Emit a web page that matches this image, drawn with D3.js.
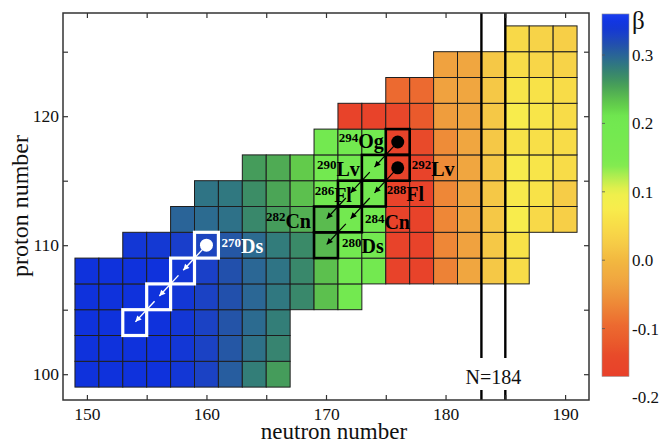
<!DOCTYPE html>
<html><head><meta charset="utf-8">
<script src="https://cdn.jsdelivr.net/npm/d3@7"></script>
<style>body{margin:0;background:#fff}svg{display:block}</style>
</head><body><svg id="c" width="662" height="443"></svg>
<script>
// ---------------- data ----------------
const rowZ      = [100, 102, 104, 106, 108, 110, 112, 114, 116, 118, 120, 122, 124, 126];
const rowStartN = [150, 150, 150, 150, 150, 154, 158, 160, 164, 170, 172, 176, 180, 186];
const betaZ100 = [0.345,0.345,0.345,0.345,0.34,0.328,0.305,0.28,0.258];
const betaZ102 = [0.345,0.345,0.345,0.345,0.34,0.328,0.31,0.29,0.275];
const betaZ104 = [0.345,0.345,0.345,0.345,0.34,0.328,0.312,0.295,0.28];
const betaZ106 = [0.345,0.345,0.345,0.345,0.34,0.328,0.315,0.298,0.285,0.272,0.235,0.19];
const betaZ108 = [0.345,0.345,0.345,0.345,0.34,0.33,0.315,0.298,0.288,0.272,0.235,0.19,0.19,-0.16,-0.16,-0.07,-0.03,0.02,0.05];
const betaZ110 = [0.34,0.338,0.332,0.325,0.31,0.295,0.282,0.27,0.24,0.19,0.19,-0.16,-0.16,-0.065,-0.035,0.02,0.06];
const betaZ112 = [0.3,0.295,0.29,0.272,0.258,0.245,0.238,0.19,0.19,-0.16,-0.16,-0.065,-0.03,0.02,0.075,0.045,0.03];
const betaZ114 = [0.288,0.285,0.268,0.252,0.235,0.205,0.19,0.19,-0.16,-0.16,-0.065,-0.03,0.02,0.07,0.06,0.025];
const betaZ116 = [0.258,0.248,0.228,0.19,0.19,0.19,-0.16,-0.16,-0.06,-0.03,0.02,0.075,0.065,0.05];
const betaZ118 = [0.19,0.19,0.19,-0.16,-0.14,-0.06,-0.03,0.02,0.06,0.055,0.05];
const betaZ120 = [-0.16,-0.16,-0.15,-0.12,-0.04,-0.03,0.02,0.075,0.065,0.05];
const betaZ122 = [-0.095,-0.095,-0.035,-0.03,0.02,0.065,0.06,0.05];
const betaZ124 = [-0.035,-0.03,0.02,0.05,0.04,0.035];
const betaZ126 = [0.045,0.035,0.03];
const betaRows = [betaZ100,betaZ102,betaZ104,betaZ106,betaZ108,betaZ110,betaZ112,betaZ114,betaZ116,betaZ118,betaZ120,betaZ122,betaZ124,betaZ126];

// decay chains (alpha decay: N-2, Z-2)
const chainOgN = [176,174,172,170], chainOgZ = [118,116,114,112];
const chainLvN = [176,174,172,170], chainLvZ = [116,114,112,110];
const chainDsN = [160,158,156,154], chainDsZ = [110,108,106,104];

// labelled nuclides
const nucN    = [176,174,172,170,176,174,172,170,160];
const nucZ    = [118,116,114,112,116,114,112,110,110];
const nucMass = ['294','290','286','282','292','288','284','280','270'];
const nucSym  = ['Og','Lv','Fl','Cn','Lv','Fl','Cn','Ds','Ds'];

const shellN = [183, 185];
const shellLabel = 'N=184';

const xTicks = [150,155,160,165,170,175,180,185,190];
const yTicks = [100,105,110,115,120,125];
const cbTicks = [0.3,0.2,0.1,0.0,-0.1,-0.2];
const cbTickLabels = ['0.3','0.2','0.1','0.0','-0.1','-0.2'];

// colour map (beta -> colour)
const cmapBeta  = [-0.17,-0.14,-0.12,-0.095,-0.06,-0.03,0.0,0.02,0.04,0.06,0.075,0.10,0.12,0.14,0.21,0.225,0.24,0.255,0.27,0.285,0.30,0.315,0.33,0.345,0.36];
const cmapColor = ['#e8402a','#e84a2a','#ea5a2c','#ec6a30','#ee8c38','#f0a640','#f2b840','#f5c846','#f8d648','#f8e248','#f8ec4c','#eef04c','#b8ee50','#7cea50','#70e850','#64d04a','#58b850','#48a058','#3a8a68','#307880','#2a6498','#2250ac','#1a40c8','#0f32dc','#1a3ef0'];

// ---------------- drawing ----------------
const svg = d3.select('#c');
const serif = '"Liberation Serif","Times New Roman",serif';
const x = d3.scaleLinear().domain([148,192]).range([63,589]);
const y = d3.scaleLinear().domain([98,128]).range([400,13]);
const color = d3.scaleLinear().domain(cmapBeta).range(cmapColor).interpolate(d3.interpolateRgb).clamp(true);

const defs = svg.append('defs');
function marker(id, fill){
  defs.append('marker').attr('id',id).attr('viewBox','0 0 10 10').attr('refX',10).attr('refY',5)
    .attr('markerWidth',7.5).attr('markerHeight',6).attr('markerUnits','userSpaceOnUse').attr('orient','auto')
    .append('path').attr('d','M0,0L10,5L0,10Z').attr('fill',fill);
}
marker('ab','#000'); marker('aw','#fff');

// cells
const cells = [];
rowZ.forEach((Z,i)=>betaRows[i].forEach((b,j)=>cells.push({N:rowStartN[i]+2*j, Z, b})));
const cellRect = (sel)=>sel.attr('x',d=>x(d.N-1)).attr('y',d=>y(d.Z+1))
  .attr('width',d=>x(d.N+1)-x(d.N-1)).attr('height',d=>y(d.Z-1)-y(d.Z+1));
svg.append('g').selectAll('rect').data(cells).join('rect').call(cellRect)
  .attr('fill',d=>color(d.b)).attr('stroke','#1e1e1e').attr('stroke-width',1);

// chain boxes
function chain(Ns, Zs, col, sw){
  const pts = Ns.map((n,i)=>({N:n, Z:Zs[i]}));
  svg.append('g').selectAll('rect').data(pts).join('rect').call(cellRect)
    .attr('fill','none').attr('stroke',col).attr('stroke-width',sw);
  return pts;
}
const cOg = chain(chainOgN, chainOgZ, '#000', 2.6);
const cLv = chain(chainLvN, chainLvZ, '#000', 2.6);
const cDs = chain(chainDsN, chainDsZ, '#fff', 3.2);

function arrows(pts, col, mk, sw, r){
  const g = svg.append('g');
  for(let i=1;i<pts.length;i++){
    const x0=x(pts[i-1].N), y0=y(pts[i-1].Z), x1=x(pts[i].N), y1=y(pts[i].Z);
    const dx=x1-x0, dy=y1-y0, L=Math.hypot(dx,dy);
    const s = i===1 ? r : 0.17*L;
    g.append('line').attr('x1',x0+dx*s/L).attr('y1',y0+dy*s/L).attr('x2',x1-dx*1/L).attr('y2',y1-dy*1/L)
      .attr('stroke',col).attr('stroke-width',sw).attr('marker-end',`url(#${mk})`);
  }
  g.append('circle').attr('cx',x(pts[0].N)).attr('cy',y(pts[0].Z)).attr('r',6.5).attr('fill',col);
}
arrows(cOg,'#000','ab',1.2,6);
arrows(cLv,'#000','ab',1.2,6);
arrows(cDs,'#fff','aw',1.4,6);

// labels  (layout: anchor side and pixel offsets from the cell centre)
const labAnchor = ['end','end','end','end','start','start','start','start','start'];
const labDx = [-14,-14,2,-15,14,13,15,16,15];
const labDy = [6,8,8,8.5,8,7,10,8,8];
const labFill = ['#000','#000','#000','#000','#000','#000','#000','#000','#fff'];
const lg = svg.append('g').attr('font-family',serif).attr('font-weight','bold');
nucN.forEach((n,i)=>{
  const t = lg.append('text').attr('x',x(n)+labDx[i]).attr('y',y(nucZ[i])+labDy[i])
    .attr('text-anchor',labAnchor[i]).attr('fill',labFill[i]);
  t.append('tspan').attr('font-size',13).attr('dy',-6.5).text(nucMass[i]);
  t.append('tspan').attr('font-size',20).attr('dy',6.5).text(nucSym[i]);
});

// N=184 shell lines
const sg = svg.append('g');
shellN.forEach(n=>{
  sg.append('line').attr('x1',x(n)).attr('x2',x(n)).attr('y1',y(128)).attr('y2',358).attr('stroke','#000').attr('stroke-width',2.4);
  sg.append('line').attr('x1',x(n)).attr('x2',x(n)).attr('y1',390).attr('y2',y(98)).attr('stroke','#000').attr('stroke-width',2.4);
});
sg.append('text').attr('x',x(d3.mean(shellN))).attr('y',384).attr('text-anchor','middle')
  .attr('font-family',serif).attr('font-size',20).attr('fill','#111').text(shellLabel);

// axes
function styleAxis(g){
  g.select('.domain').remove();
  g.selectAll('line').attr('stroke','#333').attr('stroke-width',1.2);
  g.selectAll('text').attr('font-family',serif).attr('font-size',17.5).attr('fill','#111');
}
const fmt = d=> d%10===0 ? d : '';
svg.append('g').attr('transform',`translate(0,${y(98)})`)
  .call(d3.axisBottom(x).tickValues(xTicks).tickSizeInner(-5).tickSizeOuter(0).tickPadding(8).tickFormat(fmt)).call(styleAxis);
svg.append('g').attr('transform',`translate(0,${y(128)})`)
  .call(d3.axisTop(x).tickValues(xTicks).tickSizeInner(-5).tickSizeOuter(0).tickFormat('')).call(styleAxis);
svg.append('g').attr('transform',`translate(${x(148)},0)`)
  .call(d3.axisLeft(y).tickValues(yTicks).tickSizeInner(-5).tickSizeOuter(0).tickPadding(4).tickFormat(fmt)).call(styleAxis);
svg.append('g').attr('transform',`translate(${x(192)},0)`)
  .call(d3.axisRight(y).tickValues(yTicks).tickSizeInner(-5).tickSizeOuter(0).tickFormat('')).call(styleAxis);
svg.append('rect').attr('x',x(148)).attr('y',y(128)).attr('width',x(192)-x(148)).attr('height',y(98)-y(128))
  .attr('fill','none').attr('stroke','#333').attr('stroke-width',1.5);

svg.append('text').attr('x',334).attr('y',439).attr('text-anchor','middle').attr('font-family',serif)
  .attr('font-size',23).attr('fill','#111').text('neutron number');
svg.append('text').attr('transform','translate(28,206) rotate(-90)').attr('text-anchor','middle').attr('font-family',serif)
  .attr('font-size',24).attr('fill','#111').text('proton number');

// colour bar
const cb = d3.scaleLinear().domain([-0.2,0.3]).range([397,55]);
const cbTop = 0.36, cbBot = -0.17;
const grad = defs.append('linearGradient').attr('id','cbg').attr('x1',0).attr('y1',0).attr('x2',0).attr('y2',1);
d3.range(0,1.0001,0.02).forEach(t=>{
  grad.append('stop').attr('offset',t).attr('stop-color',color(cbTop+(cbBot-cbTop)*t));
});
svg.append('rect').attr('x',602).attr('y',cb(cbTop)).attr('width',27).attr('height',cb(cbBot)-cb(cbTop))
  .attr('fill','url(#cbg)').attr('stroke','#999').attr('stroke-width',0.6);
const cg = svg.append('g');
cbTicks.forEach((v,i)=>{
  if (cb(v) < cb(cbBot)) cg.append('line').attr('x1',602).attr('x2',605).attr('y1',cb(v)).attr('y2',cb(v)).attr('stroke','#555').attr('stroke-width',0.8);
  cg.append('text').attr('x',632).attr('y',cb(v)+6).attr('font-family',serif).attr('font-size',17).attr('fill','#111').text(cbTickLabels[i]);
});
svg.append('text').attr('x',632).attr('y',29).attr('font-family',serif).attr('font-size',25).attr('fill','#111').text('β');
</script>
</body></html>
